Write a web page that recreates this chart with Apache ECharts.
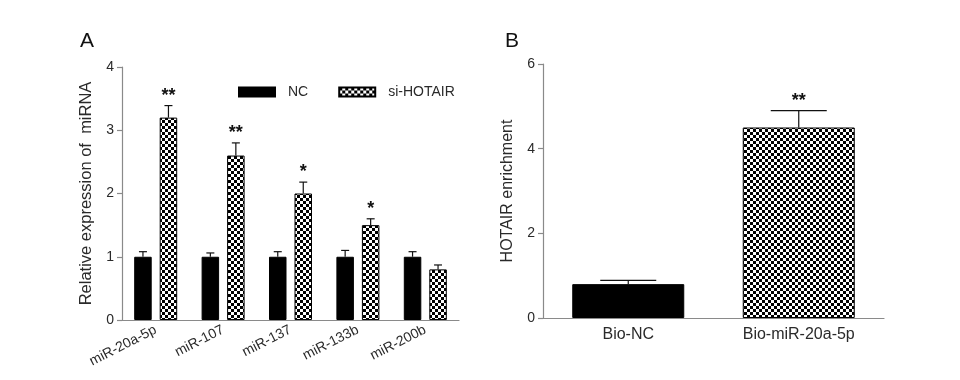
<!DOCTYPE html>
<html>
<head>
<meta charset="utf-8">
<script src="https://cdn.jsdelivr.net/npm/echarts@6/dist/echarts.min.js"></script>
<style>
html,body{margin:0;padding:0;background:#fff;}
#chart{width:960px;height:380px;}
</style>
</head>
<body>
<div id="chart"></div>
<script>
// ---- Panel A data ----
const catsA = ['miR-20a-5p', 'miR-107', 'miR-137', 'miR-133b', 'miR-200b'];
const ncA = [1.0, 1.0, 1.0, 1.0, 1.0];
const ncErrTopA = [1.08, 1.06, 1.08, 1.10, 1.08];
const siA = [3.2, 2.6, 2.0, 1.5, 0.8];
const siErrTopA = [3.39, 2.80, 2.18, 1.60, 0.87];
const sigA = ['**', '**', '*', '*', ''];
const yTicksA = [0, 1, 2, 3, 4];

// ---- Panel B data ----
const catsB = ['Bio-NC', 'Bio-miR-20a-5p'];
const valB = [0.8, 4.5];
const errTopB = [0.89, 4.9];
const sigB = ['', '**'];
const yTicksB = [0, 2, 4, 6];

const FONT = 'Liberation Sans, Arial, Helvetica, sans-serif';
const AXIS_COLOR = '#8a8a8a';
const TEXT_COLOR = '#2a2a2a';

// checkerboard pattern
const pc = document.createElement('canvas');
pc.width = 6; pc.height = 6;
const pctx = pc.getContext('2d');
pctx.fillStyle = '#fff'; pctx.fillRect(0, 0, 6, 6);
pctx.fillStyle = '#000';
pctx.fillRect(0, 0, 3, 3);
pctx.fillRect(3, 3, 3, 3);
const checker = { image: pc, repeat: 'repeat' };

const BAR_W_A = 17.5;
const GAP_A = 8;
const OFF_A = (BAR_W_A + GAP_A) / 2;
const BAR_W_B = 112;

function errRenderer(offset, capHalf, sigs) {
  return function (params, api) {
    const i = api.value(0);
    const v = api.value(1);
    const t = api.value(2);
    const p0 = api.coord([i, v]);
    const p1 = api.coord([i, t]);
    const x = p0[0] + offset;
    const children = [
      { type: 'line', shape: { x1: x, y1: p0[1], x2: x, y2: p1[1] }, style: { stroke: '#111', lineWidth: 1.2 } },
      { type: 'line', shape: { x1: x - capHalf, y1: p1[1], x2: x + capHalf, y2: p1[1] }, style: { stroke: '#111', lineWidth: 1.2 } }
    ];
    const s = sigs[params.dataIndex];
    if (s) {
      children.push({
        type: 'text',
        style: { text: s, x: x, y: p1[1] - 1, align: 'center', verticalAlign: 'bottom', fontSize: 18, fontWeight: 'bold', fontFamily: FONT, fill: '#111' }
      });
    }
    return { type: 'group', children: children };
  };
}

function yAxisBase(gridIndex, max, interval, name, nameSize) {
  return {
    type: 'value', gridIndex: gridIndex, min: 0, max: max, interval: interval,
    name: name, nameLocation: 'middle', nameGap: 27,
    nameTextStyle: { fontSize: nameSize, fontFamily: FONT, color: TEXT_COLOR },
    axisLine: { show: true, lineStyle: { color: AXIS_COLOR, width: 1.2 } },
    axisTick: { show: true, length: 5, lineStyle: { color: AXIS_COLOR, width: 1.2 } },
    axisLabel: { fontSize: 14, fontFamily: FONT, color: TEXT_COLOR, margin: 8 },
    splitLine: { show: false }
  };
}

const option = {
  backgroundColor: '#fff',
  animation: false,
  title: [
    { text: 'A', left: 75, top: 26, textStyle: { fontSize: 21, fontWeight: 'normal', fontFamily: FONT, color: '#111' } },
    { text: 'B', left: 500, top: 26, textStyle: { fontSize: 21, fontWeight: 'normal', fontFamily: FONT, color: '#111' } }
  ],
  legend: {
    left: 233, top: 80,
    icon: 'rect',
    itemWidth: 36, itemHeight: 9, itemGap: 30,
    data: ['NC', 'si-HOTAIR'],
    textStyle: { fontSize: 14, fontFamily: FONT, color: TEXT_COLOR, padding: [0, 0, 0, 8] }
  },
  grid: [
    { left: 122, top: 67, width: 337, height: 253 },
    { left: 543, top: 64, width: 341, height: 254 }
  ],
  xAxis: [
    {
      type: 'category', gridIndex: 0, data: catsA,
      axisLine: { lineStyle: { color: AXIS_COLOR, width: 1.2 } },
      axisTick: { alignWithLabel: true, length: 5, lineStyle: { color: AXIS_COLOR, width: 1.2 } },
      axisLabel: { rotate: 27, fontSize: 14, fontFamily: FONT, color: TEXT_COLOR, margin: 9, interval: 0 }
    },
    {
      type: 'category', gridIndex: 1, data: catsB,
      axisLine: { lineStyle: { color: AXIS_COLOR, width: 1.2 } },
      axisTick: { alignWithLabel: true, length: 5, lineStyle: { color: AXIS_COLOR, width: 1.2 } },
      axisLabel: { fontSize: 16, fontFamily: FONT, color: TEXT_COLOR, margin: 9 }
    }
  ],
  yAxis: [
    yAxisBase(0, yTicksA[yTicksA.length - 1], yTicksA[1] - yTicksA[0], 'Relative expression of  miRNA', 16.5),
    yAxisBase(1, yTicksB[yTicksB.length - 1], yTicksB[1] - yTicksB[0], 'HOTAIR enrichment', 16)
  ],
  series: [
    {
      name: 'NC', type: 'bar', xAxisIndex: 0, yAxisIndex: 0, data: ncA,
      barWidth: BAR_W_A, barGap: (GAP_A / BAR_W_A * 100) + '%',
      itemStyle: { color: '#000', borderColor: '#000', borderWidth: 1 }
    },
    {
      name: 'si-HOTAIR', type: 'bar', xAxisIndex: 0, yAxisIndex: 0, data: siA,
      barWidth: BAR_W_A, barGap: (GAP_A / BAR_W_A * 100) + '%',
      itemStyle: { color: checker, borderColor: '#000', borderWidth: 1 }
    },
    {
      type: 'custom', xAxisIndex: 0, yAxisIndex: 0, z: 5,
      data: ncA.map((v, i) => [i, v, ncErrTopA[i]]),
      renderItem: errRenderer(-OFF_A, 4, ['', '', '', '', ''])
    },
    {
      type: 'custom', xAxisIndex: 0, yAxisIndex: 0, z: 5,
      data: siA.map((v, i) => [i, v, siErrTopA[i]]),
      renderItem: errRenderer(OFF_A, 4, sigA)
    },
    {
      type: 'bar', xAxisIndex: 1, yAxisIndex: 1,
      data: valB.map((v, i) => ({ value: v, itemStyle: { color: i === 0 ? '#000' : checker, borderColor: '#000', borderWidth: 1 } })),
      barWidth: BAR_W_B
    },
    {
      type: 'custom', xAxisIndex: 1, yAxisIndex: 1, z: 5,
      data: valB.map((v, i) => [i, v, errTopB[i]]),
      renderItem: errRenderer(0, 28, sigB)
    }
  ]
};

const chart = echarts.init(document.getElementById('chart'), null, { renderer: 'canvas' });
chart.setOption(option);
</script>
</body>
</html>
